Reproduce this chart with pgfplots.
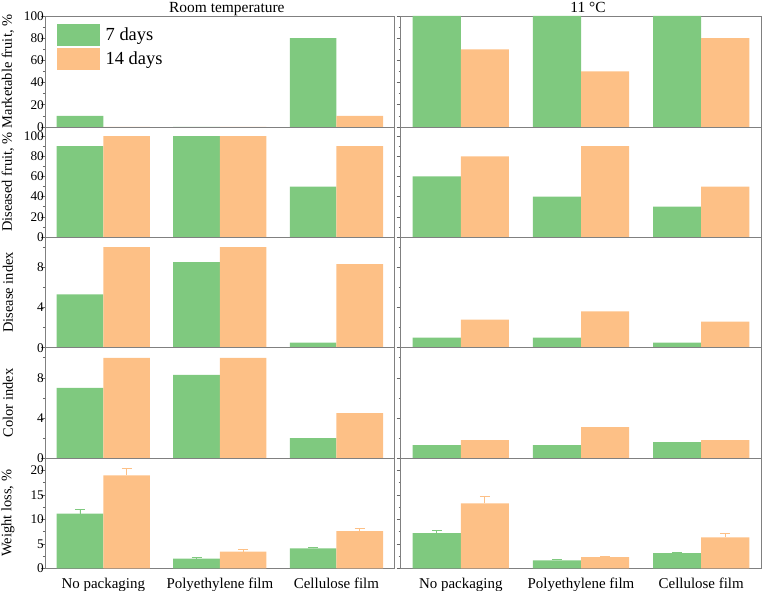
\documentclass[border=0pt]{standalone}
\usepackage{fontspec}
\setmainfont{Liberation Serif}
\usepackage{pgfplots}
\pgfplotsset{compat=1.18}
\definecolor{cg}{HTML}{7FC97F}
\definecolor{co}{HTML}{FDC086}
\pgfplotsset{
  panel/.style={scale only axis, anchor=south west, xmin=-0.5, xmax=2.5, ymin=0,
    xtick={0,1,2}, xticklabels={}, xtick style={draw=none},
    ytick pos=left, tick align=outside, major tick length=4bp, minor tick length=2bp,
    ytick style={draw=black!60, line width=0.6bp},
    axis line style={draw=black!50, line width=0.8bp},
    /pgf/number format/assume math mode=true,
    tick label style={font=\fontsize{13.3}{15}\selectfont},
    yticklabel style={inner sep=0pt, xshift=3bp},
    every axis y label/.style={at={(rel axis cs:0,0.5)}, xshift=-37bp, rotate=90, anchor=center, font=\fontsize{14.5}{16}\selectfont},
    every axis title/.style={at={(0.5,1)}, anchor=base, xshift=7bp, yshift=3.4bp, font=\fontsize{15.5}{17}\selectfont},
    ybar, bar width=0.4,
  },
  L/.style={panel, width=349.7bp},
  R/.style={panel, width=360.6bp, yticklabels={}},
  g7/.style={fill=cg, draw=none, bar shift=-0.2},
  o14/.style={fill=co, draw=none, bar shift=0.2},
  r1/.style={height=111bp, ymax=100, ytick={0,20,40,60,80,100}, minor ytick={10,30,50,70,90}},
  r2/.style={height=110bp, ymax=109, ytick={0,20,40,60,80,100}, minor ytick={10,30,50,70,90}},
  r3/.style={height=110.7bp, ymax=11, ytick={0,4,8}, minor ytick={2,6,10}},
  r4/.style={height=110.6bp, ymax=11, ytick={0,4,8}, minor ytick={2,6,10}},
  r5/.style={height=110bp, ymax=22.5, ytick={0,5,10,15,20}, minor ytick={2.5,7.5,12.5,17.5},
    xticklabels={No packaging, Polyethylene film, Cellulose film},
    xticklabel style={anchor=base, yshift=-16bp, inner sep=0pt, font=\fontsize{15}{16}\selectfont}},
  eg/.style={error bars/.cd, y dir=plus, y explicit,
    error mark options={rotate=90, mark size=5bp, line width=0.8bp, draw=cg},
    error bar style={line width=0.8bp, draw=cg}},
  eo/.style={error bars/.cd, y dir=plus, y explicit,
    error mark options={rotate=90, mark size=5bp, line width=0.8bp, draw=co},
    error bar style={line width=0.8bp, draw=co}},
}
\begin{document}
\begin{tikzpicture}
\useasboundingbox (0,0) rectangle (763bp,591bp);
% Row 1
\begin{axis}[L, r1, at={(45bp,464bp)}, title={Room temperature}, ylabel={Marketable fruit, \%},
  legend style={draw=none, fill=none, at={(rel axis cs:0,1)}, anchor=north west, xshift=12bp, yshift=-7.5bp,
    inner sep=0pt, row sep=2bp, font=\fontsize{18.5}{20}\selectfont,
    nodes={inner sep=2.5bp},
    /tikz/every odd column/.append style={column sep=3bp}},
  legend cell align=left,
  legend image code/.code={\fill[#1] (0bp,-11bp) rectangle (43bp,11bp);}]
\addplot[g7] coordinates {(0,10) (1,0) (2,80)};
\addplot[o14] coordinates {(0,0) (1,0) (2,10)};
\legend{7 days, 14 days}
\end{axis}
\begin{axis}[R, r1, at={(400.7bp,464bp)}, title={11 °C}]
\addplot[g7] coordinates {(0,100) (1,100) (2,100)};
\addplot[o14] coordinates {(0,70) (1,50) (2,80)};
\end{axis}
% Row 2
\begin{axis}[L, r2, at={(45bp,354bp)}, ylabel={Diseased fruit, \%}]
\addplot[g7] coordinates {(0,90) (1,100) (2,50)};
\addplot[o14] coordinates {(0,100) (1,100) (2,90)};
\end{axis}
\begin{axis}[R, r2, at={(400.7bp,354bp)}]
\addplot[g7] coordinates {(0,60) (1,40) (2,30)};
\addplot[o14] coordinates {(0,80) (1,90) (2,50)};
\end{axis}
% Row 3
\begin{axis}[L, r3, at={(45bp,243.3bp)}, ylabel={Disease index}]
\addplot[g7] coordinates {(0,5.3) (1,8.5) (2,0.5)};
\addplot[o14] coordinates {(0,10) (1,10) (2,8.3)};
\end{axis}
\begin{axis}[R, r3, at={(400.7bp,243.3bp)}]
\addplot[g7] coordinates {(0,1.0) (1,1.0) (2,0.5)};
\addplot[o14] coordinates {(0,2.8) (1,3.6) (2,2.6)};
\end{axis}
% Row 4
\begin{axis}[L, r4, at={(45bp,132.7bp)}, ylabel={Color index}]
\addplot[g7] coordinates {(0,7.0) (1,8.3) (2,2.0)};
\addplot[o14] coordinates {(0,10) (1,10) (2,4.5)};
\end{axis}
\begin{axis}[R, r4, at={(400.7bp,132.7bp)}]
\addplot[g7] coordinates {(0,1.3) (1,1.3) (2,1.6)};
\addplot[o14] coordinates {(0,1.8) (1,3.1) (2,1.8)};
\end{axis}
% Row 5
\begin{axis}[L, r5, at={(45bp,22.7bp)}, ylabel={Weight loss, \%}]
\addplot[g7, eg] coordinates {(0,11.2) +- (0,0.9) (1,2.0) +- (0,0.15) (2,4.1) +- (0,0.2)};
\addplot[o14, eo] coordinates {(0,19.0) +- (0,1.4) (1,3.4) +- (0,0.5) (2,7.6) +- (0,0.55)};
\end{axis}
\begin{axis}[R, r5, at={(400.7bp,22.7bp)}]
\addplot[g7, eg] coordinates {(0,7.2) +- (0,0.5) (1,1.6) +- (0,0.2) (2,3.1) +- (0,0.2)};
\addplot[o14, eo] coordinates {(0,13.3) +- (0,1.4) (1,2.3) +- (0,0.15) (2,6.35) +- (0,0.7)};
\end{axis}
\end{tikzpicture}
\end{document}
